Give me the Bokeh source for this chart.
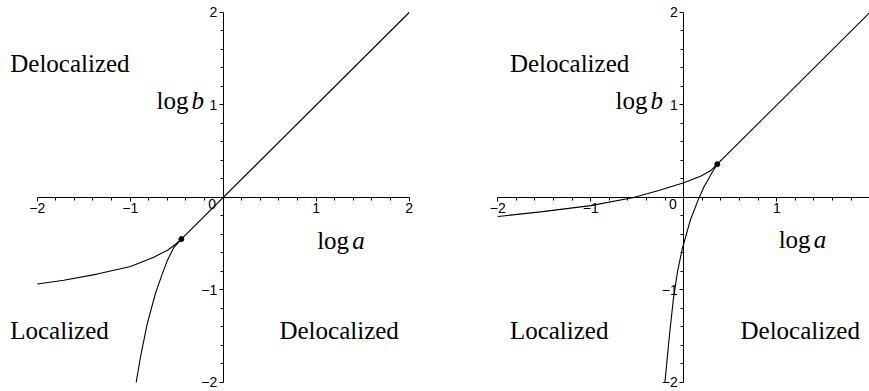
from bokeh.plotting import figure
from bokeh.layouts import row
from bokeh.models import Range1d, FixedTicker, Label
from bokeh.core.properties import value
from bokeh.embed import file_html
from bokeh.resources import INLINE

# ---------------- data ----------------
tick_values = [-2, -1, 0, 1, 2]
tick_labels = ["\u22122", "\u22121", "", "1", "2"]
minor_values = [-1.8, -1.6, -1.4, -1.2, -0.8, -0.6, -0.4, -0.2,
                0.2, 0.4, 0.6, 0.8, 1.2, 1.4, 1.6, 1.8]

region_text = ["Delocalized", "Localized", "Delocalized"]

# left panel
left_diag_x = [-0.45, 2.0]
left_diag_y = [-0.45, 2.0]
left_upper_x = [-2.0, -1.714, -1.355, -0.997, -0.746, -0.59, -0.513, -0.45]
left_upper_y = [-0.935, -0.895, -0.828, -0.745, -0.645, -0.565, -0.505, -0.45]
left_lower_x = [-0.45, -0.531, -0.602, -0.656, -0.728, -0.817, -0.889, -0.932, -0.935]
left_lower_y = [-0.45, -0.541, -0.685, -0.828, -1.035, -1.366, -1.724, -1.975, -2.0]
left_cusp_x = [-0.45]
left_cusp_y = [-0.45]
left_region_x = [-2.29, -2.29, 0.605]
left_region_y = [1.448, -1.441, -1.441]
left_logb = (-0.717, 1.045)
left_loga = (1.01, -0.47)

# right panel
right_diag_x = [0.36, 2.0]
right_diag_y = [0.36, 2.0]
right_upper_x = [-2.0, -1.54, -1.0, -0.54, -0.27, 0.0, 0.18, 0.287, 0.36]
right_upper_y = [-0.206, -0.155, -0.088, 0.0, 0.075, 0.16, 0.23, 0.288, 0.36]
right_lower_x = [0.36, 0.305, 0.215, 0.161, 0.072, -0.016, -0.068, -0.111, -0.15, -0.178, -0.203]
right_lower_y = [0.36, 0.271, 0.11, -0.01, -0.24, -0.554, -0.804, -1.091, -1.449, -1.737, -2.0]
right_cusp_x = [0.36]
right_cusp_y = [0.36]
right_region_x = [-1.87, -1.87, 0.61]
right_region_y = [1.446, -1.435, -1.435]
right_logb = (-0.734, 1.05)
right_loga = (1.02, -0.454)

SERIF = "Liberation Serif"
SANS = "Liberation Sans"


def make_panel(width, x0, x1, y0, y1, diag, upper, lower, cusp, reg, logb, loga):
    p = figure(width=width, height=391, x_range=Range1d(x0, x1), y_range=Range1d(y0, y1),
               output_backend="svg", toolbar_location=None, min_border=0,
               x_axis_location="below", y_axis_location="left")
    p.outline_line_color = None
    p.xgrid.visible = False
    p.ygrid.visible = False
    p.background_fill_color = "white"
    p.border_fill_color = "white"

    for ax in (p.xaxis[0], p.yaxis[0]):
        ax.fixed_location = 0
        ax.bounds = (-2, 2)
        ax.ticker = FixedTicker(ticks=tick_values, minor_ticks=minor_values)
        ax.major_label_overrides = {v: s for v, s in zip(tick_values, tick_labels)}
        ax.axis_line_color = "black"
        ax.axis_line_width = 1
        ax.major_tick_line_color = "black"
        ax.minor_tick_line_color = "black"
        ax.major_tick_in = 0
        ax.minor_tick_in = 0
        ax.major_tick_out = 4
        ax.minor_tick_out = 3
        ax.major_label_standoff = 2
        ax.major_label_text_font = SANS
        ax.major_label_text_font_size = "14px"
        ax.major_label_text_color = "black"

    p.add_layout(Label(x=0, y=0, x_offset=-11, y_offset=-7, text="0",
                       text_align="center", text_baseline="middle",
                       text_font=SANS, text_font_size="14px", text_color="black"))

    p.line(diag[0], diag[1], line_color="black", line_width=1.1)
    p.line(upper[0], upper[1], line_color="black", line_width=1.1)
    p.line(lower[0], lower[1], line_color="black", line_width=1.1)
    p.scatter(cusp[0], cusp[1], size=5, color="black")

    p.text(x=reg[0], y=reg[1], text=region_text, text_font=value(SERIF),
           text_font_size="25px", text_align="left", text_baseline="alphabetic",
           text_color="black")
    for (lx, ly), var in ((logb, "b"), (loga, "a")):
        p.text(x=[lx], y=[ly], text=["log"], text_font=value(SERIF),
               text_font_size="25px", text_align="left", text_baseline="alphabetic",
               text_color="black")
        p.text(x=[lx], y=[ly], text=[var], x_offset=35, text_font=value(SERIF),
               text_font_size="25px", text_font_style="italic", text_align="left",
               text_baseline="alphabetic", text_color="black")
    return p


left = make_panel(440, -2.3946, 2.3366, -2.0973, 2.1297,
                  (left_diag_x, left_diag_y), (left_upper_x, left_upper_y),
                  (left_lower_x, left_lower_y), (left_cusp_x, left_cusp_y),
                  (left_region_x, left_region_y), left_logb, left_loga)
right = make_panel(429, -2.616, 1.997, -2.0973, 2.1297,
                   (right_diag_x, right_diag_y), (right_upper_x, right_upper_y),
                   (right_lower_x, right_lower_y), (right_cusp_x, right_cusp_y),
                   (right_region_x, right_region_y), right_logb, right_loga)

layout = row(left, right, spacing=0)
open("out.html", "w").write(file_html(layout, INLINE))
